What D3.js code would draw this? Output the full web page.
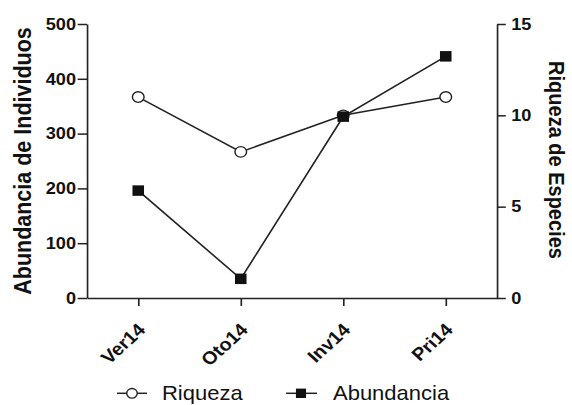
<!DOCTYPE html>
<html>
<head>
<meta charset="utf-8">
<script src="https://cdn.jsdelivr.net/npm/d3@7"></script>
<style>
  body { margin: 0; background: #fff; }
  text { font-family: "Liberation Sans", Arial, sans-serif; fill: #111; }
</style>
</head>
<body>
<script>
const categories = ['Ver14', 'Oto14', 'Inv14', 'Pri14'];
const riqueza = [11, 8, 10, 11];
const abundancia = [196, 35, 331, 441];
const leftTicks = [0, 100, 200, 300, 400, 500];
const rightTicks = [0, 5, 10, 15];
const seriesNames = ['Riqueza', 'Abundancia'];

// the picture is a bit wider than tall, so draw in a stretched group
const stretch = 1.1;
const width = 572, height = 405;
const ink = '#222';

const svg = d3.select('body')
  .append('svg')
  .attr('width', width)
  .attr('height', height);

const g = svg.append('g')
  .attr('transform', `scale(${stretch}, 1)`);

const plotLeft = 87 / stretch, plotRight = 497 / stretch;
const plotTop = 24, plotBottom = 298;

const xScale = d3.scalePoint()
  .domain(categories)
  .range([plotLeft, plotRight])
  .padding(0.5);

const yLeft = d3.scaleLinear()
  .domain([0, 500])
  .range([plotBottom, plotTop]);

const yRight = d3.scaleLinear()
  .domain([0, 15])
  .range([plotBottom, plotTop]);

function styleAxis(sel, size) {
  sel.selectAll('path, line').attr('stroke', ink).attr('stroke-width', 1.5);
  sel.selectAll('text')
    .style('font-size', size + 'px')
    .style('font-weight', 'bold')
    .attr('fill', '#111');
}

// left axis
g.append('g')
  .attr('transform', `translate(${plotLeft}, 0)`)
  .call(d3.axisLeft(yLeft).tickValues(leftTicks).tickSize(8.5).tickPadding(1.5).tickSizeOuter(0))
  .call(sel => styleAxis(sel, 16.5));

// right axis
g.append('g')
  .attr('transform', `translate(${plotRight}, 0)`)
  .call(d3.axisRight(yRight).tickValues(rightTicks).tickSize(8).tickPadding(5).tickSizeOuter(0))
  .call(sel => styleAxis(sel, 16.5));

// bottom axis
g.append('g')
  .attr('transform', `translate(0, ${plotBottom})`)
  .call(d3.axisBottom(xScale).tickSize(8).tickSizeOuter(0))
  .call(sel => styleAxis(sel, 18))
  .selectAll('text')
    .attr('x', 0)
    .attr('y', 0)
    .attr('dy', 0)
    .attr('text-anchor', 'end')
    .attr('transform', 'translate(7, 33) rotate(-45)');

// axis titles
g.append('text')
  .attr('transform', `translate(${31 / stretch}, 161) rotate(-90)`)
  .attr('text-anchor', 'middle')
  .style('font-size', '21.5px')
  .style('font-weight', 'bold')
  .text('Abundancia de Individuos');

g.append('text')
  .attr('transform', `translate(${549 / stretch}, 160) rotate(90)`)
  .attr('text-anchor', 'middle')
  .style('font-size', '20px')
  .style('font-weight', 'bold')
  .text('Riqueza de Especies');

// lines
const lineR = d3.line()
  .x((d, i) => xScale(categories[i]))
  .y(d => yRight(d));

const lineA = d3.line()
  .x((d, i) => xScale(categories[i]))
  .y(d => yLeft(d));

g.append('path')
  .datum(riqueza)
  .attr('d', lineR)
  .attr('fill', 'none')
  .attr('stroke', ink)
  .attr('stroke-width', 1.5);

g.selectAll('circle.riq')
  .data(riqueza)
  .enter()
  .append('circle')
    .attr('class', 'riq')
    .attr('cx', (d, i) => xScale(categories[i]))
    .attr('cy', d => yRight(d))
    .attr('r', 5.3)
    .attr('fill', '#fff')
    .attr('stroke', ink)
    .attr('stroke-width', 1.3);

g.append('path')
  .datum(abundancia)
  .attr('d', lineA)
  .attr('fill', 'none')
  .attr('stroke', ink)
  .attr('stroke-width', 1.5);

const sq = 10.5;
g.selectAll('rect.abu')
  .data(abundancia)
  .enter()
  .append('rect')
    .attr('class', 'abu')
    .attr('x', (d, i) => xScale(categories[i]) - sq / 2)
    .attr('y', d => yLeft(d) - sq / 2)
    .attr('width', sq)
    .attr('height', sq)
    .attr('fill', '#111');

// legend
const legY = 393.3;
const legend = g.append('g');

legend.append('line')
  .attr('x1', 117 / stretch).attr('x2', 147 / stretch)
  .attr('y1', legY).attr('y2', legY)
  .attr('stroke', ink).attr('stroke-width', 1.5);
legend.append('circle')
  .attr('cx', 132 / stretch).attr('cy', legY).attr('r', 4.8)
  .attr('fill', '#fff').attr('stroke', ink).attr('stroke-width', 1.3);
legend.append('text')
  .attr('x', 162 / stretch).attr('y', 400.5)
  .style('font-size', '20px')
  .text(seriesNames[0]);

legend.append('line')
  .attr('x1', 286 / stretch).attr('x2', 317 / stretch)
  .attr('y1', legY).attr('y2', legY)
  .attr('stroke', ink).attr('stroke-width', 1.5);
legend.append('rect')
  .attr('x', 301 / stretch - 4.6).attr('y', legY - 4.7)
  .attr('width', 9.2).attr('height', 9.4)
  .attr('fill', '#111');
legend.append('text')
  .attr('x', 333 / stretch).attr('y', 400.5)
  .style('font-size', '20px')
  .text(seriesNames[1]);
</script>
</body>
</html>
